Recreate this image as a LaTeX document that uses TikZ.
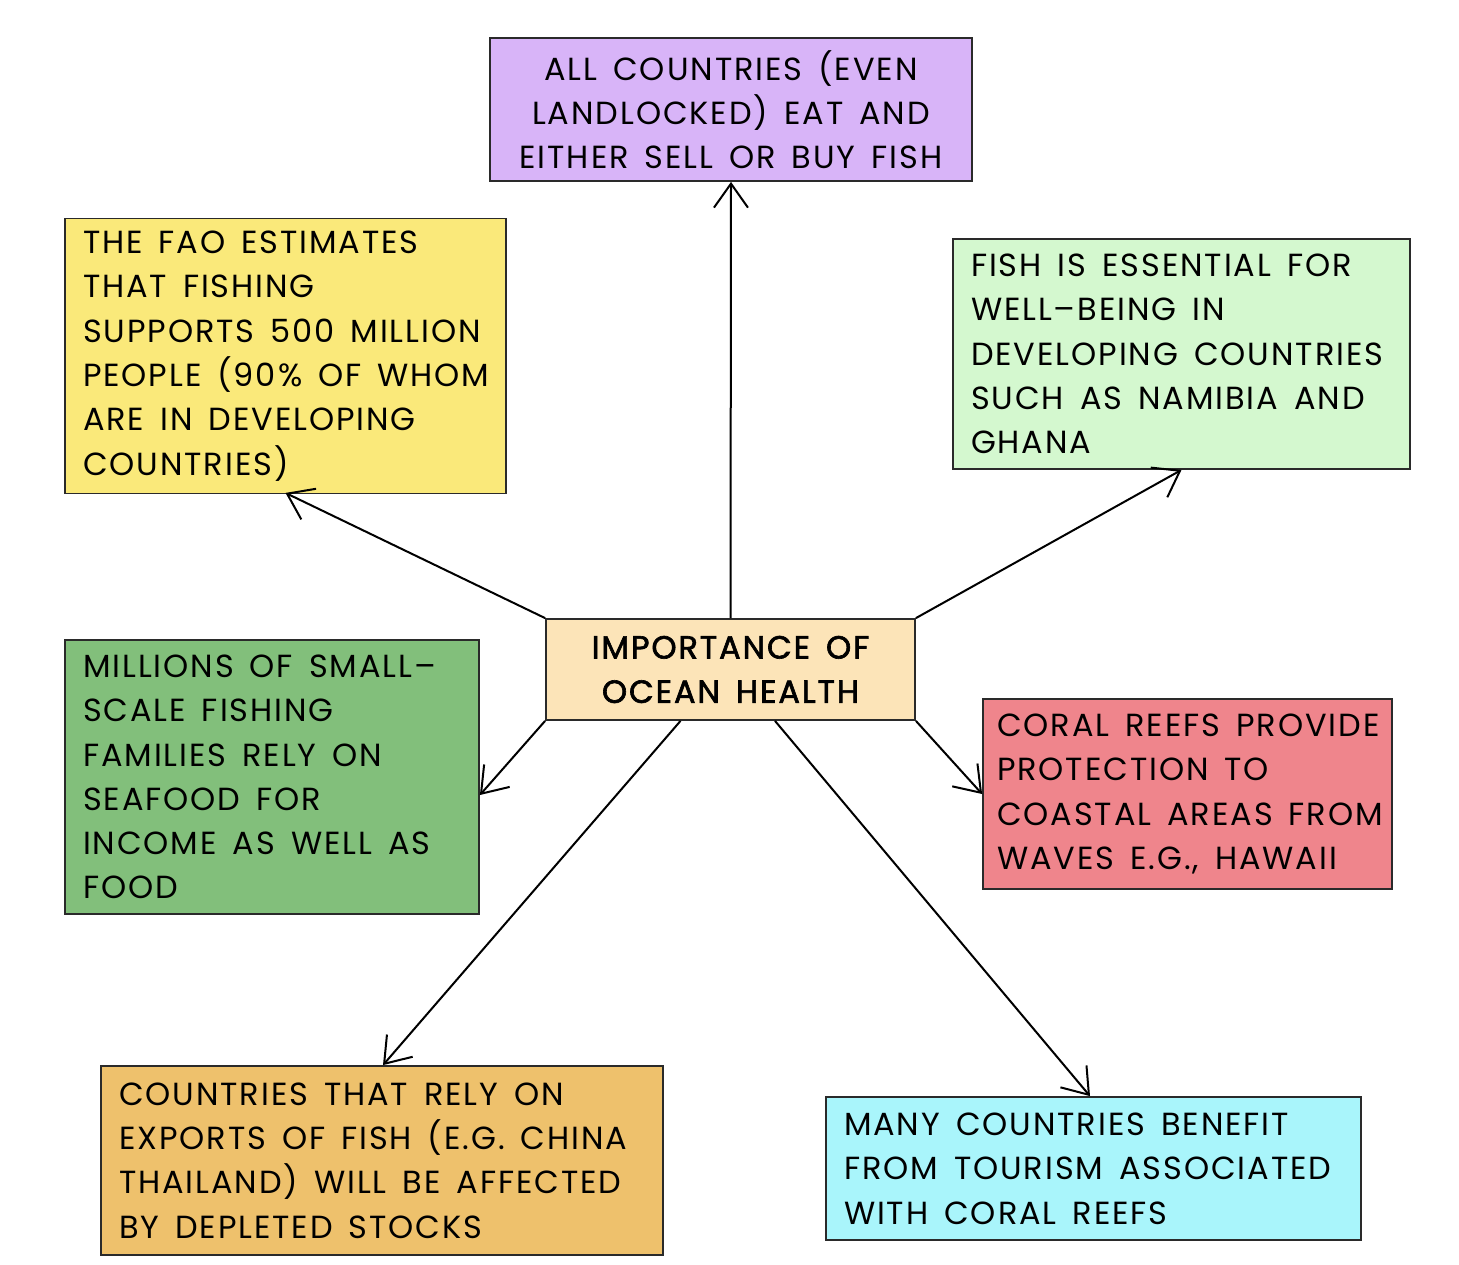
\documentclass[tikz,border=0pt]{standalone}
\usepackage{fontspec}
\setmainfont{Poppins}[LetterSpace=6]
\usetikzlibrary{arrows.meta}
\hfuzz=200pt
\hbadness=10000
\newcommand\oneline[1]{\mbox{\spaceskip=16pt\relax\xspaceskip=16pt\relax #1}}
\newcommand\boxfont{\fontsize{32}{44.3}\selectfont}
\definecolor{cpurple}{HTML}{D8B4F8}
\definecolor{cyellow}{HTML}{FAE97A}
\definecolor{clgreen}{HTML}{D4F8CF}
\definecolor{ccenter}{HTML}{FCE4B8}
\definecolor{cdgreen}{HTML}{82BF7B}
\definecolor{cred}{HTML}{EF858C}
\definecolor{corange}{HTML}{EEC16C}
\definecolor{ccyan}{HTML}{A9F5FB}
\definecolor{cline}{HTML}{2A2A2A}
\tikzset{
  infobox/.style={draw=cline, line width=1.8pt, rectangle, inner xsep=18pt, inner ysep=0pt,
    align=left, font=\boxfont},
  centerbox/.style={infobox, align=center},
  link/.style={draw=black, line width=2pt, -{Straight Barb[length=24pt,width=34pt,line width=2pt]}}
}
\begin{document}
\begin{tikzpicture}[x=1pt,y=-1pt]
\useasboundingbox (0,0) rectangle (1459,1264);
\node[centerbox, fill=cpurple, text width=446pt, minimum height=143pt] (top) at (731,109.5)
  {\oneline{ALL COUNTRIES (EVEN}\\\oneline{LANDLOCKED) EAT AND}\\\oneline{EITHER SELL OR BUY FISH}};
\node[infobox, fill=cyellow, text width=405pt, minimum height=275pt] (fao) at (285.5,356)
  {\oneline{THE FAO ESTIMATES}\\\oneline{THAT FISHING}\\\oneline{SUPPORTS 500 MILLION}\\\oneline{PEOPLE (90\% OF WHOM}\\\oneline{ARE IN DEVELOPING}\\\oneline{COUNTRIES)}};
\node[infobox, fill=clgreen, text width=421pt, minimum height=230pt] (wellb) at (1181.5,354)
  {\oneline{FISH IS ESSENTIAL FOR}\\\oneline{WELL--BEING IN}\\\oneline{DEVELOPING COUNTRIES}\\\oneline{SUCH AS NAMIBIA AND}\\\oneline{GHANA}};
\node[centerbox, fill=ccenter, text width=333pt, minimum height=101pt, font=\boxfont\addfontfeatures{FakeBold=2}] (c) at (730.5,669.5)
  {\oneline{IMPORTANCE OF}\\\oneline{OCEAN HEALTH}};
\node[infobox, fill=cdgreen, text width=378pt, minimum height=274pt] (small) at (272,777)
  {\oneline{MILLIONS OF SMALL--}\\\oneline{SCALE FISHING}\\\oneline{FAMILIES RELY ON}\\\oneline{SEAFOOD FOR}\\\oneline{INCOME AS WELL AS}\\\oneline{FOOD}};
\node[infobox, fill=cred, inner xsep=14pt, text width=381pt, minimum height=190pt] (coral) at (1187.5,794)
  {\oneline{CORAL REEFS PROVIDE}\\\oneline{PROTECTION TO}\\\oneline{COASTAL AREAS FROM}\\\oneline{WAVES E.G., HAWAII}};
\node[infobox, fill=corange, text width=526pt, minimum height=189pt] (export) at (382,1160.5)
  {\oneline{COUNTRIES THAT RELY ON}\\\oneline{EXPORTS OF FISH (E.G. CHINA}\\\oneline{THAILAND) WILL BE AFFECTED}\\\oneline{BY DEPLETED STOCKS}};
\node[infobox, fill=ccyan, text width=499pt, minimum height=143pt] (tour) at (1093.5,1168.5)
  {\oneline{MANY COUNTRIES BENEFIT}\\\oneline{FROM TOURISM ASSOCIATED}\\\oneline{WITH CORAL REEFS}};
\draw[link] (c.north) -- (top.south);
\draw[link] (c.north west) -- ([yshift=1.5pt]fao.south);
\draw[link] (c.north east) -- (wellb.south);
\draw[link] (c.south west) -- ([yshift=-18pt]small.east);
\draw[link] (c.south east) -- (coral.west);
\draw[link] ([xshift=-50pt]c.south) -- ([xshift=1pt]export.north);
\draw[link] ([xshift=44.5pt]c.south) -- ([xshift=-3.5pt]tour.north);
\end{tikzpicture}
\end{document}
